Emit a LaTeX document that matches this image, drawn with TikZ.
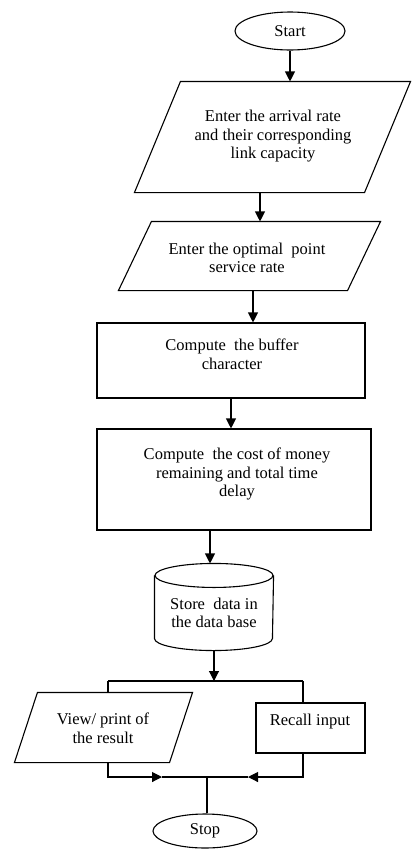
\documentclass[tikz,border=0pt]{standalone}
\usepackage{fontspec}
\setmainfont{Liberation Serif}
\usetikzlibrary{arrows.meta,shapes.geometric}
\begin{document}
\begin{tikzpicture}[x=1pt,y=-1pt,
  line width=1.1pt,
  arr/.style={-{Triangle[length=10pt,width=10pt]}},
  box/.style={draw, rectangle, inner sep=0pt},
  frame/.style={rectangle, inner sep=0pt},
  txt/.style={align=center, font=\fontsize{16.5}{18.5}\selectfont, inner sep=0pt},
  term/.style={draw, ellipse, inner sep=0pt, font=\fontsize{16.5}{18.5}\selectfont}]
\useasboundingbox (0,0) rectangle (415,849);

% Start
\node[term, minimum width=110pt, minimum height=38pt] (start) at (290,31) {Start};

% Parallelogram 1
\node[frame, minimum width=275pt, minimum height=110pt] (p1) at (272.5,137) {};
\draw ([xshift=46pt]p1.north west) -- (p1.north east) -- ([xshift=-46pt]p1.south east) -- (p1.south west) -- cycle;
\node[txt] (t1) at (273,136.5) {Enter the arrival rate\\and their corresponding\\link capacity};

% Parallelogram 2
\node[frame, minimum width=261pt, minimum height=68pt] (p2) at (249.5,256) {};
\draw ([xshift=33pt]p2.north west) -- (p2.north east) -- ([xshift=-33pt]p2.south east) -- (p2.south west) -- cycle;
\node[txt] (t2) at (247,258) {Enter the optimal~ point\\service rate};

% Rect 1
\node[box, minimum width=268pt, minimum height=75pt] (r1) at (231,360.5) {};
\node[txt] (t3) at (232,354.5) {Compute~ the buffer\\character};

% Rect 2
\node[box, minimum width=274pt, minimum height=101pt] (r2) at (234,479.5) {};
\node[txt] (t4) at (237,474) {Compute~ the cost of money\\remaining and total time\\delay};

% Database cylinder
\node[frame, minimum width=118pt, minimum height=86pt] (db) at (214,607) {};
\draw ([yshift=-12pt]db.north west) -- ([yshift=12pt]db.south west)
  arc[start angle=180,end angle=360,x radius=59pt,y radius=12pt]
  -- ([yshift=-12pt]db.north east);
\draw ([yshift=-12pt]db.north) ellipse[x radius=59pt, y radius=12pt];
\node[txt] (t5) at (214,613) {Store~ data in\\the data base};

% Parallelogram 3
\node[frame, minimum width=177pt, minimum height=69pt] (p3) at (103.5,727.5) {};
\draw ([xshift=23pt]p3.north west) -- (p3.north east) -- ([xshift=-23pt]p3.south east) -- (p3.south west) -- cycle;
\node[txt] (t6) at (103,728.5) {View/ print of\\the result};

% Rect 3
\node[box, minimum width=109pt, minimum height=50pt] (r3) at (310.5,728) {};
\node[txt] (t7) at (310,722) {Recall input};

% Stop
\node[term, minimum width=104pt, minimum height=34pt] (stop) at (205,831) {Stop};

% Connectors
\draw[arr] (start.south) -- (start.south |- p1.north);
\draw[arr] ([xshift=-12.5pt]p1.south) -- ([xshift=-12.5pt]p1.south |- p2.north);
\draw[arr] ([xshift=3.5pt]p2.south) -- ([xshift=3.5pt]p2.south |- r1.north);
\draw[arr] (r1.south) -- (r1.south |- r2.north);
\draw[arr] ([xshift=-24pt]r2.south) -- ([xshift=-24pt]r2.south |- db.north);

\coordinate (jl) at (108,681);
\coordinate (jr) at (303,681);
\draw[arr] (db.south) -- (db.south |- jl);
\draw (jl) -- (jr);
\draw (jl) -- (jl |- p3.north);
\draw (jr) -- (jr |- r3.north);

\coordinate (bl) at (108,777);
\coordinate (br) at (303,777);
\coordinate (ml) at (162,777);
\coordinate (mr) at (248,777);
\draw[arr] (bl |- p3.south) -- (bl) -- (ml);
\draw[arr] (br |- r3.south) -- (br) -- (mr);
\draw (ml) -- (mr);
\draw ([xshift=2pt]stop.north |- bl) -- ([xshift=2pt]stop.north);
\end{tikzpicture}
\end{document}
